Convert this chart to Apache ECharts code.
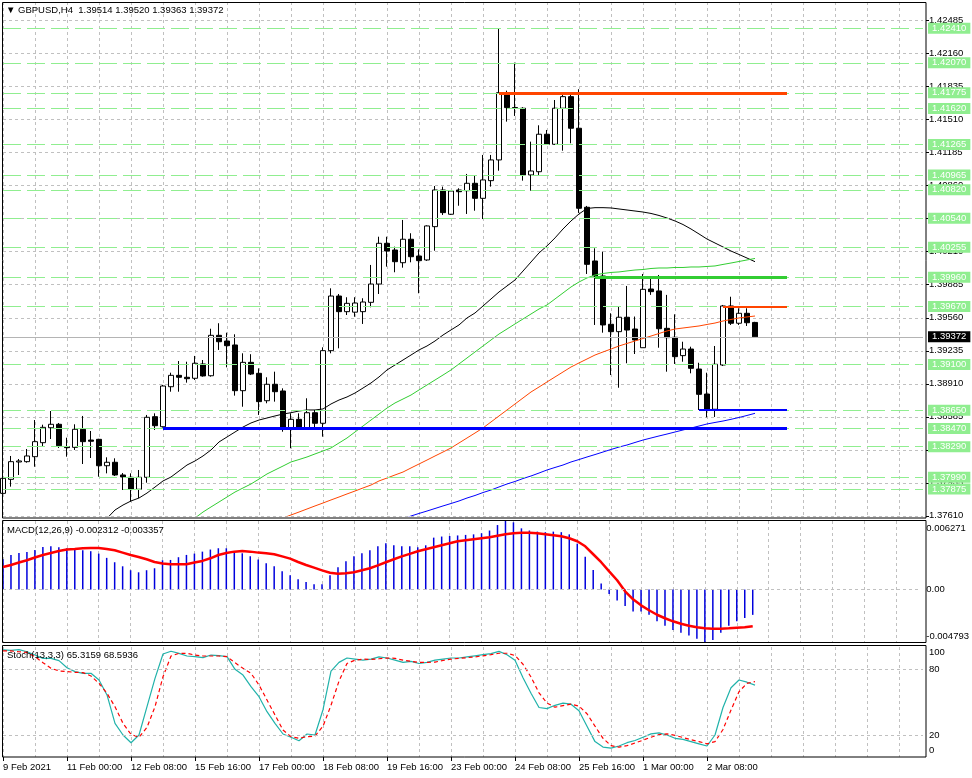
<!DOCTYPE html>
<html><head><meta charset="utf-8">
<script src="https://cdn.jsdelivr.net/npm/echarts@6/dist/echarts.min.js"></script>
<style>html,body{margin:0;padding:0;background:#fff}#c{width:972px;height:778px}</style>
</head><body><div id="c"></div>
<script>
const FONT = 'Liberation Sans';
const FS = 9.5;

// ---- price data (H4 candles, GBPUSD) ----
const opens = [1.37831,1.37969,1.38140,1.38143,1.38192,1.38330,1.38477,1.38511,1.38290,1.38284,
1.38462,1.38356,1.38363,1.38103,1.38137,1.38012,1.37989,1.37871,1.37989,1.38586,
1.38487,1.38881,1.38993,1.38974,1.38964,1.39105,1.38989,1.39387,1.39331,1.39292,
1.38842,1.39121,1.39013,1.38743,1.38905,1.38839,1.38472,1.38560,1.38472,1.38625,
1.38521,1.39236,1.39774,1.39620,1.39615,1.39620,1.39712,1.39892,1.40293,1.40227,
1.40102,1.40333,1.40168,1.40129,1.40457,1.40818,1.40579,1.40818,1.40811,1.40884,
1.40736,1.40910,1.41114,1.41776,1.41629,1.41623,1.40966,1.40998,1.41367,1.41268,
1.41623,1.41737,1.41426,1.40648,1.40119,1.39971,1.39496,1.39423,1.39565,1.39449,
1.39265,1.39843,1.39824,1.39456,1.39368,1.39187,1.39252,1.39055,1.38809,1.38659,
1.39095,1.39676,1.39506,1.39604,1.39514];
const highs = [1.38002,1.38199,1.38169,1.38268,1.38553,1.38507,1.38642,1.38524,1.38379,1.38511,
1.38593,1.38445,1.38368,1.38186,1.38176,1.38031,1.38028,1.38061,1.38603,1.38619,
1.38899,1.39019,1.39134,1.39127,1.39184,1.39144,1.39452,1.39506,1.39413,1.39397,
1.39210,1.39201,1.39062,1.38974,1.39029,1.38865,1.38619,1.38619,1.38767,1.38652,
1.39269,1.39850,1.39794,1.39762,1.39762,1.39752,1.40080,1.40358,1.40358,1.40260,
1.40523,1.40392,1.40234,1.40470,1.40857,1.40851,1.40818,1.40835,1.40976,1.40956,
1.41163,1.41163,1.42403,1.41796,1.42072,1.41633,1.41294,1.41455,1.41409,1.41704,
1.41754,1.41754,1.41810,1.40661,1.40244,1.40211,1.39604,1.39669,1.39873,1.39572,
1.39991,1.39958,1.39981,1.39785,1.39594,1.39324,1.39275,1.39117,1.39019,1.39282,
1.39686,1.39767,1.39653,1.39653,1.39520];
const lows = [1.37706,1.37897,1.38012,1.38133,1.38093,1.38290,1.38366,1.38278,1.38192,1.38258,
1.38120,1.38179,1.37995,1.38028,1.38002,1.37864,1.37749,1.37785,1.37936,1.38455,
1.38479,1.38832,1.38832,1.38921,1.38947,1.38980,1.38980,1.39243,1.39072,1.38793,
1.38684,1.38996,1.38603,1.38718,1.38734,1.38438,1.38275,1.38468,1.38455,1.38472,
1.38389,1.39210,1.39259,1.39587,1.39570,1.39499,1.39663,1.39794,1.40063,1.40008,
1.40053,1.40106,1.39801,1.40120,1.40220,1.40572,1.40572,1.40663,1.40582,1.40614,
1.40532,1.40851,1.41008,1.41491,1.41547,1.40910,1.40811,1.40966,1.41261,1.41261,
1.41205,1.41278,1.40592,1.39991,1.39489,1.39413,1.38996,1.38871,1.39112,1.39203,
1.39265,1.39785,1.39265,1.39029,1.39105,1.39127,1.39013,1.38652,1.38580,1.38583,
1.39085,1.39489,1.39489,1.39479,1.39363];
const closes = [1.37979,1.38143,1.38150,1.38199,1.38340,1.38481,1.38511,1.38300,1.38281,1.38462,
1.38340,1.38344,1.38103,1.38137,1.38012,1.37992,1.37871,1.37989,1.38580,1.38497,
1.38888,1.38993,1.38974,1.38960,1.39112,1.38987,1.39387,1.39324,1.39285,1.38842,
1.39121,1.39006,1.38734,1.38905,1.38832,1.38472,1.38560,1.38472,1.38625,1.38521,
1.39236,1.39774,1.39620,1.39702,1.39705,1.39715,1.39892,1.40293,1.40217,1.40112,
1.40333,1.40161,1.40122,1.40464,1.40818,1.40595,1.40808,1.40801,1.40884,1.40736,
1.40917,1.41114,1.41776,1.41629,1.41623,1.40966,1.41005,1.41367,1.41268,1.41623,
1.41737,1.41426,1.40638,1.40086,1.39971,1.39489,1.39423,1.39565,1.39439,1.39341,
1.39840,1.39817,1.39452,1.39364,1.39177,1.39252,1.39062,1.38806,1.38659,1.39102,
1.39676,1.39506,1.39604,1.39511,1.39372];

// ---- moving averages (first bar index + values) ----
const maBlackFrom = 11;
const maBlack = [1.37490,1.37549,1.37585,1.37667,1.37716,1.37756,1.37785,1.37834,1.37893,
1.37953,1.37992,1.38051,1.38110,1.38150,1.38199,1.38258,1.38337,1.38386,1.38435,
1.38484,1.38524,1.38553,1.38573,1.38593,1.38612,1.38625,1.38642,1.38652,1.38652,
1.38662,1.38711,1.38750,1.38780,1.38819,1.38868,1.38918,1.38977,1.39046,1.39095,
1.39144,1.39193,1.39243,1.39282,1.39331,1.39390,1.39440,1.39489,1.39558,1.39607,
1.39676,1.39745,1.39814,1.39873,1.39932,1.40020,1.40109,1.40198,1.40267,1.40346,
1.40434,1.40513,1.40582,1.40636,1.40644,1.40644,1.40641,1.40631,1.40621,1.40611,
1.40601,1.40587,1.40567,1.40542,1.40513,1.40478,1.40434,1.40385,1.40335,1.40296,
1.40257,1.40217,1.40183,1.40148,1.40112];
const maGreenFrom = 23;
const maGreen = [1.37549,1.37588,1.37647,1.37697,1.37746,1.37795,1.37844,
1.37884,1.37923,1.37972,1.38022,1.38061,1.38100,1.38140,1.38164,1.38189,1.38219,
1.38248,1.38278,1.38327,1.38376,1.38435,1.38494,1.38553,1.38612,1.38671,1.38721,
1.38760,1.38799,1.38849,1.38898,1.38947,1.38996,1.39046,1.39105,1.39164,1.39223,
1.39282,1.39341,1.39400,1.39449,1.39499,1.39548,1.39597,1.39646,1.39686,1.39745,
1.39804,1.39863,1.39912,1.39952,1.39981,1.39996,1.40006,1.40011,1.40021,1.40030,
1.40035,1.40045,1.40050,1.40050,1.40055,1.40055,1.40060,1.40060,1.40065,1.40070,
1.40085,1.40099,1.40114,1.40129,1.40144];
const maOrangeFrom = 34;
const maOrange = [1.37539,1.37588,1.37618,1.37647,1.37677,1.37707,
1.37736,1.37766,1.37795,1.37825,1.37854,1.37884,1.37913,1.37953,1.37982,1.38012,
1.38041,1.38081,1.38120,1.38159,1.38199,1.38238,1.38278,1.38327,1.38376,1.38425,
1.38475,1.38534,1.38593,1.38652,1.38711,1.38770,1.38829,1.38878,1.38928,1.38977,
1.39026,1.39075,1.39115,1.39154,1.39193,1.39223,1.39252,1.39282,1.39307,1.39331,
1.39356,1.39380,1.39405,1.39430,1.39449,1.39459,1.39469,1.39479,1.39494,1.39508,
1.39528,1.39543,1.39558,1.39568,1.39577];
const maBlueFrom = 49;
const maBlue = [1.37550,
1.37578,1.37608,1.37633,1.37657,1.37682,1.37707,1.37731,1.37756,1.37785,1.37810,
1.37839,1.37864,1.37894,1.37923,1.37948,1.37977,1.38002,1.38031,1.38061,1.38086,
1.38110,1.38140,1.38164,1.38189,1.38213,1.38238,1.38263,1.38287,1.38307,1.38332,
1.38356,1.38376,1.38396,1.38415,1.38435,1.38455,1.38474,1.38494,1.38514,1.38529,
1.38543,1.38560,1.38578,1.38598,1.38619];

// ---- MACD(12,26,9) ----
const macdHist = [0.00277,0.00317,0.00335,0.00344,0.00363,0.00390,0.00396,0.00387,0.00378,0.00372,
0.00360,0.00351,0.00329,0.00290,0.00250,0.00213,0.00177,0.00158,0.00177,0.00195,
0.00268,0.00271,0.00296,0.00317,0.00329,0.00347,0.00366,0.00378,0.00378,0.00347,
0.00332,0.00305,0.00274,0.00241,0.00213,0.00168,0.00131,0.00094,0.00070,0.00049,
0.00048,0.00131,0.00204,0.00259,0.00305,0.00332,0.00359,0.00396,0.00423,0.00405,
0.00396,0.00396,0.00387,0.00405,0.00475,0.00485,0.00490,0.00495,0.00500,0.00505,
0.00515,0.00540,0.00590,0.00627,0.00615,0.00560,0.00540,0.00530,0.00525,0.00530,
0.00525,0.00505,0.00420,0.00300,0.00180,0.00055,-0.00040,-0.00100,-0.00150,-0.00200,
-0.00200,-0.00230,-0.00290,-0.00330,-0.00370,-0.00395,-0.00420,-0.00450,-0.00479,-0.00460,
-0.00395,-0.00330,-0.00290,-0.00260,-0.002312];
const macdSignal = [0.00207,0.00225,0.00247,0.00268,0.00293,0.00316,0.00335,0.00353,0.00366,0.00371,
0.00378,0.00380,0.00380,0.00371,0.00359,0.00338,0.00316,0.00298,0.00277,0.00252,
0.00238,0.00231,0.00231,0.00231,0.00247,0.00262,0.00286,0.00316,0.00335,0.00347,
0.00353,0.00347,0.00338,0.00332,0.00323,0.00304,0.00283,0.00252,0.00225,0.00201,
0.00176,0.00154,0.00144,0.00149,0.00158,0.00176,0.00195,0.00222,0.00250,0.00277,
0.00304,0.00327,0.00350,0.00369,0.00387,0.00405,0.00423,0.00442,0.00451,0.00460,
0.00469,0.00478,0.00492,0.00506,0.00515,0.00519,0.00519,0.00515,0.00506,0.00497,
0.00487,0.00469,0.00442,0.00396,0.00323,0.00250,0.00167,0.00085,-0.00016,-0.00089,
-0.00144,-0.00189,-0.00230,-0.00262,-0.00290,-0.00313,-0.00331,-0.00345,-0.00354,-0.00358,
-0.00358,-0.00354,-0.00349,-0.00345,-0.003357];

// ---- Stochastic(13,3,3) ----
const stochK = [97.3,97.0,97.6,95.7,92.7,89.7,89.7,87.6,81.2,77.6,
76.1,76.1,70.0,56.4,30.6,20.0,13.0,20.0,45.8,71.5,
93.6,96.1,94.2,91.8,91.2,90.3,92.7,92.1,91.2,79.7,
74.5,63.9,54.8,41.2,30.6,20.9,17.9,14.8,20.9,20.0,
43,78,86,90,89,88,89,91,90,88,
86,87,85,86,88,89,90,90,91,92,
93,94,96,93,88,72,58,45,44,47,
49,48,42,28,14,9,8,10,13,15,
18,21,22,20,17,16,14,12,10,20,
45,63,70,68,65.3159];
const stochD = [96.4,96.4,95.7,95.1,91.2,85.7,80.6,78.2,77.6,77.0,
76.7,73.6,67.0,57.9,45.7,30.6,20.6,17.9,27.0,45.7,
73.0,91.8,94.2,94.2,92.7,91.8,91.8,91.8,91.2,85.7,
80.6,76.1,65.5,51.8,38.2,24.5,18.5,17.0,18.5,19.0,
28,47,69,85,88,89,88.7,89.3,90,89.7,
88,87,86,86,86.3,87.7,89,89.7,90.3,91,
92,93,94.3,94.3,92.3,84.3,72.7,58.3,49,45.3,
46.7,48,46.3,39.3,28,17,10.3,9,10.3,12.7,
15.3,18,20.3,21,19.7,17.7,15.7,14,12,14,
25,42.7,59.3,67,68.5936];

// ---- horizontal levels / drawn lines ----
const levels = [1.42410,1.42070,1.41775,1.41620,1.41265,1.40965,1.40820,1.40540,1.40255,1.39960,1.39670,1.39100,1.38650,1.38470,1.38290,1.37990,1.37875];
const bidPrice = 1.39372;
const trendPrices = [1.41775, 1.39960, 1.39670, 1.38650, 1.38470];
const trendStart = [62, 74, 90, 87, 20];
const trendEnd = 98;

// ---- axis labels ----
const xTickLabels = ['9 Feb 2021','11 Feb 00:00','12 Feb 08:00','15 Feb 16:00','17 Feb 00:00','18 Feb 08:00','19 Feb 16:00','23 Feb 00:00','24 Feb 08:00','25 Feb 16:00','1 Mar 00:00','2 Mar 08:00'];
const xTickEvery = 8;
const priceTickMin = 1.37610, priceTickStep = 0.00325, priceTop = 1.42669;
const macdMin = -0.004793, macdMax = 0.006271;
const stochTicks = [0, 20, 80, 100];
const titles = ['\u25BC GBPUSD,H4  1.39514 1.39520 1.39363 1.39372', 'MACD(12,26,9) -0.002312 -0.003357', 'Stoch(13,3,3) 65.3159 68.5936'];

// ---- build ----
const trendColors = ['#ff4500', '#32cd32', '#ff4500', '#0000ff', '#0000ff'];
const trendWidths = [3, 3, 2, 2, 3];
const SLOTS = 116;
const slots = Array.from({length: SLOTS}, (_, i) => String(i));
const pad = (from, vals) => slots.map((_, i) => (i >= from && i - from < vals.length) ? vals[i - from] : null);
const candles = opens.map((o, i) => [o, closes[i], lows[i], highs[i]]);
const gridLine = {color: '#c0c0c0', type: [3, 3], width: 1};

const chart = echarts.init(document.getElementById('c'));

const xAxisFor = (gi, withLabels) => ({
  type: 'category', gridIndex: gi, data: slots, boundaryGap: false,
  axisLine: {show: false},
  axisTick: withLabels ? {show: true, length: 4, interval: (i) => i % xTickEvery === 0 && i / xTickEvery < xTickLabels.length, lineStyle: {color: '#000'}} : {show: false},
  axisLabel: withLabels ? {
    show: true, interval: (i) => i % xTickEvery === 0 && i / xTickEvery < xTickLabels.length,
    formatter: (v, i) => xTickLabels[i / xTickEvery] || '',
    align: 'left', margin: 5, color: '#000', fontSize: FS, fontFamily: FONT
  } : {show: false},
  splitLine: {show: true, interval: 3, lineStyle: gridLine}
});

const labelStyle = {color: '#000', fontSize: FS, fontFamily: FONT};
const richBase = {fontSize: FS, fontFamily: FONT, color: '#000'};
const boxLabel = (bg) => ({show: true, position: 'end', distance: 5, formatter: (p) => Number(p.value).toFixed(5), backgroundColor: bg, color: '#fff', fontSize: FS, fontFamily: FONT, padding: [1, 4, 0, 4], lineHeight: 10});
const titleStyle = {fontSize: FS, fontWeight: 'normal', color: '#000', fontFamily: FONT};

const option = {
  animation: false,
  backgroundColor: '#fff',
  textStyle: {fontFamily: FONT},
  title: [
    {text: titles[0], left: 6, top: 5, padding: 0, textStyle: titleStyle},
    {text: titles[1], left: 7, top: 525, padding: 0, textStyle: titleStyle},
    {text: titles[2], left: 7, top: 650, padding: 0, textStyle: titleStyle}
  ],
  grid: [
    {left: 3, top: 2, width: 920, height: 513.8},
    {left: 3, top: 521, width: 920, height: 121},
    {left: 3, top: 647, width: 920, height: 110}
  ],
  xAxis: [xAxisFor(0, false), xAxisFor(1, false), xAxisFor(2, true)],
  yAxis: [
    {type: 'value', gridIndex: 0, position: 'right', offset: 3, min: priceTickMin, max: priceTop, interval: priceTickStep,
     axisLine: {show: false}, axisTick: {show: true, length: 3, lineStyle: {color: '#000'}},
     axisLabel: Object.assign({margin: 3, formatter: (v) => v.toFixed(5), showMaxLabel: false}, labelStyle),
     splitLine: {show: true, lineStyle: gridLine}},
    {type: 'value', gridIndex: 1, position: 'right', offset: 3, min: macdMin, max: macdMax,
     axisLine: {show: false}, axisTick: {show: false},
     axisLabel: Object.assign({margin: 3, customValues: [macdMin, 0, macdMax],
       formatter: (v) => v > 0.001 ? '{t|' + macdMax.toFixed(6) + '}' : (v < -0.001 ? '{b|' + macdMin.toFixed(6) + '}' : '{m|0.00}'),
       rich: {t: Object.assign({padding: [14, 0, 0, 0]}, richBase), b: Object.assign({padding: [0, 0, 11, 0]}, richBase), m: richBase}}, labelStyle),
     splitLine: {show: false}},
    {type: 'value', gridIndex: 2, position: 'right', offset: 3, min: 0, max: 100,
     axisLine: {show: false}, axisTick: {show: false},
     axisLabel: Object.assign({margin: 3, customValues: stochTicks,
       formatter: (v) => v >= 100 ? '{t|100}' : (v <= 0 ? '{b|0}' : '{m|' + v + '}'),
       rich: {t: Object.assign({padding: [11, 0, 0, 0]}, richBase), b: Object.assign({padding: [0, 0, 13, 0]}, richBase), m: richBase}}, labelStyle),
     splitLine: {show: false}}
  ],
  series: [
    {type: 'line', name: 'levels', xAxisIndex: 0, yAxisIndex: 0, data: [], z: 1, silent: true,
     markLine: {symbol: 'none', silent: true, animation: false, precision: 6,
       lineStyle: {color: '#90ee90', type: [18, 6], width: 1},
       label: boxLabel('#90ee90'),
       emphasis: {disabled: true},
       data: levels.map((v) => ({yAxis: v}))}},
    {type: 'line', name: 'bid', xAxisIndex: 0, yAxisIndex: 0, data: [], z: 2, silent: true,
     markLine: {symbol: 'none', silent: true, animation: false, precision: 6,
       lineStyle: {color: '#b4b4b4', type: 'solid', width: 1},
       label: boxLabel('#000'),
       emphasis: {disabled: true},
       data: [{yAxis: bidPrice}]}},
    {type: 'candlestick', name: 'GBPUSD', xAxisIndex: 0, yAxisIndex: 0, data: candles, barWidth: 5, z: 3,
     itemStyle: {color: '#ffffff', color0: '#000000', borderColor: '#000000', borderColor0: '#000000', borderWidth: 1}},
    {type: 'line', name: 'maBlack', data: pad(maBlackFrom, maBlack), symbol: 'none', z: 4, lineStyle: {color: '#000', width: 1}},
    {type: 'line', name: 'maGreen', data: pad(maGreenFrom, maGreen), symbol: 'none', z: 4, lineStyle: {color: '#32cd32', width: 1}},
    {type: 'line', name: 'maOrange', data: pad(maOrangeFrom, maOrange), symbol: 'none', z: 4, lineStyle: {color: '#ff4500', width: 1}},
    {type: 'line', name: 'maBlue', data: pad(maBlueFrom, maBlue), symbol: 'none', z: 4, lineStyle: {color: '#0000ff', width: 1}},
    {type: 'line', name: 'trend', data: [], z: 5, silent: true,
     markLine: {symbol: 'none', silent: true, animation: false, precision: 6, label: {show: false}, emphasis: {disabled: true},
       data: trendPrices.map((p, k) => [
         {coord: [trendStart[k], p], lineStyle: {color: trendColors[k], width: trendWidths[k], type: 'solid'}},
         {coord: [trendEnd, p]}
       ])}},
    {type: 'bar', name: 'MACD', xAxisIndex: 1, yAxisIndex: 1, data: macdHist, barWidth: 1.5, z: 2,
     itemStyle: {color: '#0000dd'},
     markLine: {symbol: 'none', silent: true, animation: false, precision: 6, label: {show: false}, emphasis: {disabled: true},
       lineStyle: gridLine, data: [{yAxis: 0}]}},
    {type: 'line', name: 'Signal', xAxisIndex: 1, yAxisIndex: 1, data: macdSignal, symbol: 'none', z: 3,
     lineStyle: {color: '#ff0000', width: 2.5}},
    {type: 'line', name: 'StochK', xAxisIndex: 2, yAxisIndex: 2, data: stochK, symbol: 'none', z: 3,
     lineStyle: {color: '#20b2aa', width: 1.2},
     markLine: {symbol: 'none', silent: true, animation: false, label: {show: false}, emphasis: {disabled: true},
       lineStyle: gridLine, data: [{yAxis: 20}, {yAxis: 80}]}},
    {type: 'line', name: 'StochD', xAxisIndex: 2, yAxisIndex: 2, data: stochD, symbol: 'none', z: 3,
     lineStyle: {color: '#ff0000', width: 1.2, type: [4, 3]}}
  ],
  graphic: [
    {type: 'rect', silent: true, z: 100, shape: {x: 2.5, y: 2.5, width: 923.5, height: 515.5}, style: {fill: 'none', stroke: '#000', lineWidth: 1}},
    {type: 'rect', silent: true, z: 100, shape: {x: 2.5, y: 520.5, width: 923.5, height: 122}, style: {fill: 'none', stroke: '#000', lineWidth: 1}},
    {type: 'rect', silent: true, z: 100, shape: {x: 2.5, y: 645.5, width: 923.5, height: 111.5}, style: {fill: 'none', stroke: '#000', lineWidth: 1}}
  ]
};
chart.setOption(option);
</script>
</body></html>
